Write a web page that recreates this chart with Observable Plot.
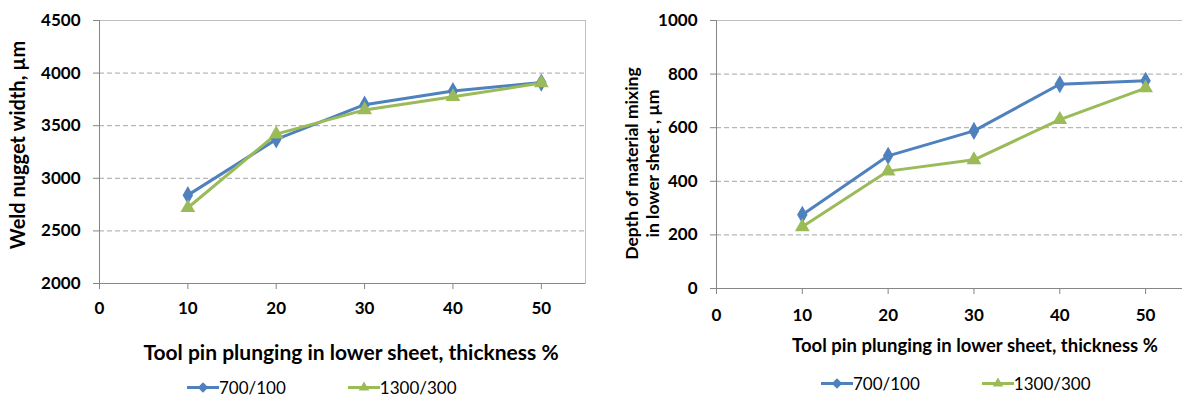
<!DOCTYPE html>
<html><head><meta charset="utf-8">
<script src="https://cdn.jsdelivr.net/npm/d3@7"></script>
<script src="https://cdn.jsdelivr.net/npm/@observablehq/plot@0.6"></script>
<style>
html,body{margin:0;padding:0;background:#fff;width:1182px;height:397px;overflow:hidden;font-family:Lato,"Liberation Sans",sans-serif;}
.panel{position:absolute;top:0;}
.xt{position:absolute;font-weight:bold;white-space:nowrap;transform:translate(-50%,-50%);color:#000;}
.lg{position:absolute;display:flex;align-items:center;white-space:nowrap;transform:translateY(-50%);color:#000;line-height:1;}
.lg span{display:inline-flex;align-items:center;}
</style></head><body>
<div id="left" class="panel" style="left:0"></div>
<div id="right" class="panel" style="left:600px"></div>
<div id="ltitle" class="xt" style="left:351px;top:351px;font-size:21px"></div>
<div id="rtitle" class="xt" style="left:975px;top:345px;font-size:18.5px"></div>
<div id="llegend" class="lg" style="left:187px;top:387px;font-size:17px"></div>
<div id="rlegend" class="lg" style="left:821px;top:383px;font-size:17px"></div>
<script>
const pinPlunge = [10, 20, 30, 40, 50];
const seriesNames = ["700/100", "1300/300"];
const seriesColors = ["#4F81BD", "#9BBB59"];
const seriesSymbols = ["diamond", "triangle"];
const nuggetWidth700 = [2840, 3370, 3700, 3830, 3910];
const nuggetWidth1300 = [2720, 3420, 3650, 3775, 3905];
const mixDepth700 = [275, 495, 588, 762, 775];
const mixDepth1300 = [230, 438, 480, 630, 748];
const xTicks = [0, 10, 20, 30, 40, 50];
const leftYTicks = [2000, 2500, 3000, 3500, 4000, 4500];
const rightYTicks = [0, 200, 400, 600, 800, 1000];
const xTitle = "Tool pin plunging in lower sheet, thickness %";
const leftYTitle = "Weld nugget width, µm";
const rightYTitle = "Depth of material mixing\nin lower sheet , µm";

const font = "Lato, 'Liberation Sans', sans-serif";

function rowsOf(a, b) {
  const out = [];
  [a, b].forEach((vals, si) => vals.forEach((v, i) => out.push({x: pinPlunge[i], y: v, s: seriesNames[si]})));
  return out;
}

function chart(o) {
  return Plot.plot({
    width: o.width, height: 332,
    marginLeft: o.marginLeft, marginRight: o.marginRight, marginTop: 20, marginBottom: o.marginBottom,
    style: {fontFamily: font, background: "transparent", maxWidth: "none", overflow: "visible", color: "#000"},
    x: {domain: [0, 55]},
    y: {domain: [o.yTicks[0], o.yTicks[o.yTicks.length - 1]]},
    color: {domain: seriesNames, range: seriesColors},
    symbol: {domain: seriesNames, range: seriesSymbols},
    marks: [
      Plot.gridY(o.yTicks.slice(1, -1), {stroke: "#a6a6a6", strokeOpacity: 1, strokeDasharray: "5,3", strokeWidth: 1}),
      Plot.frame({stroke: "#bfbfbf"}),
      Plot.axisX(xTicks, {tickSize: 6, tickPadding: o.xPad, stroke: "#868686", fill: "#000", fontSize: 17, fontWeight: "bold", label: null, tickFormat: d3.format("d")}),
      Plot.axisY(o.yTicks, {tickSize: 6, tickPadding: 13, stroke: "#868686", fill: "#000", fontSize: 17, fontWeight: "bold", label: null, tickFormat: d3.format("d")}),
      Plot.ruleX([0], {stroke: "#868686"}),
      Plot.ruleY([o.yTicks[0]], {stroke: "#868686"}),
      Plot.line(o.rows, {x: "x", y: "y", z: "s", stroke: "s", strokeWidth: 3}),
      Plot.dot(o.rows, {x: "x", y: "y", fill: "s", symbol: "s", r: 5.5, stroke: null}),
      Plot.text([o.yTitle], {text: d => d, frameAnchor: "left", textAnchor: "middle", lineAnchor: "middle", rotate: -90, dx: o.tdx, dy: o.tdy, fontSize: o.tsize, fontWeight: "bold", fill: "#000", lineHeight: o.lh || 1})
    ]
  });
}

document.getElementById("left").append(chart({
  width: 600, marginLeft: 99, marginRight: 15, marginBottom: 49, xPad: 12,
  yTicks: leftYTicks, rows: rowsOf(nuggetWidth700, nuggetWidth1300),
  yTitle: leftYTitle, tdx: -81, tdy: -7, tsize: 20
}));
document.getElementById("right").append(chart({
  width: 600, marginLeft: 116, marginRight: 12, marginBottom: 44, xPad: 14,
  yTicks: rightYTicks, rows: rowsOf(mixDepth700, mixDepth1300),
  yTitle: rightYTitle, tdx: -75, tdy: 9, tsize: 17.5, lh: 1.25
}));

document.getElementById("ltitle").textContent = xTitle;
document.getElementById("rtitle").textContent = xTitle;

function legend(el, gap) {
  seriesNames.forEach((name, i) => {
    const span = document.createElement("span");
    if (i > 0) span.style.marginLeft = gap + "px";
    const svg = d3.create("svg").attr("width", 32).attr("height", 14);
    svg.append("line").attr("x1", 0).attr("x2", 32).attr("y1", 7).attr("y2", 7)
      .attr("stroke", seriesColors[i]).attr("stroke-width", 3);
    const sym = seriesSymbols[i] === "diamond" ? d3.symbolDiamond2 : d3.symbolTriangle2;
    svg.append("path").attr("transform", "translate(16,7)")
      .attr("d", d3.symbol(sym, seriesSymbols[i] === "diamond" ? 70 : 80)()).attr("fill", seriesColors[i]);
    span.append(svg.node());
    const t = document.createElement("span");
    t.textContent = name;
    span.append(t);
    el.append(span);
  });
}
legend(document.getElementById("llegend"), 62);
legend(document.getElementById("rlegend"), 62);
</script>
</body></html>
